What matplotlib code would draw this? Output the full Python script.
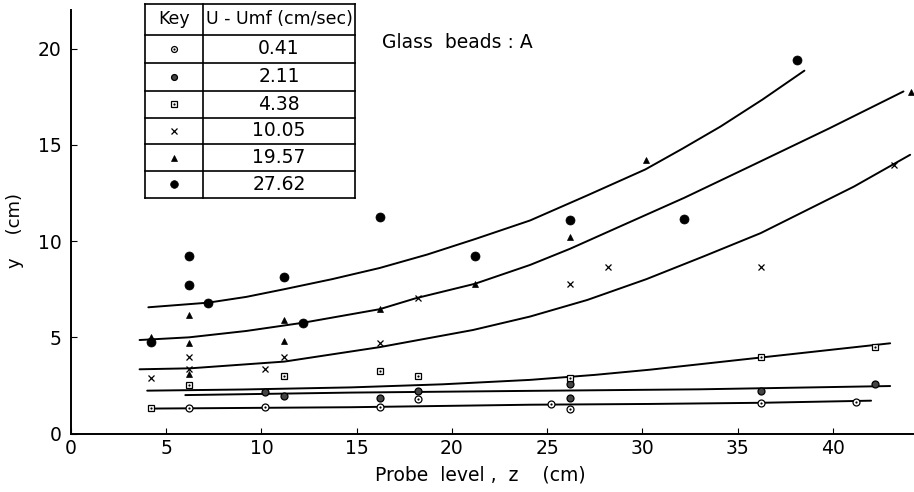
import numpy as np
import matplotlib.pyplot as plt
from matplotlib.lines import Line2D

## Series keys (U - Umf, cm/sec)
keys = ["0.41", "2.11", "4.38", "10.05", "19.57", "27.62"]

z041 = [6.2, 10.2, 16.2, 18.2, 25.2, 26.2, 36.2, 41.2]
y041 = [1.31, 1.40, 1.40, 1.78, 1.52, 1.28, 1.57, 1.66]
z211 = [10.2, 11.2, 16.2, 18.2, 26.2, 26.2, 36.2, 42.2]
y211 = [2.16, 1.97, 1.83, 2.20, 2.60, 1.85, 2.23, 2.58]
z438 = [4.2, 6.2, 11.2, 16.2, 18.2, 26.2, 36.2, 42.2]
y438 = [1.31, 2.51, 3.01, 3.25, 3.01, 2.90, 4.00, 4.52]
z1005 = [4.2, 6.2, 6.2, 10.2, 11.2, 16.2, 18.2, 26.2, 28.2, 36.2, 43.2]
y1005 = [2.87, 3.97, 3.37, 3.34, 3.97, 4.69, 7.06, 7.76, 8.64, 8.67, 13.96]
z1957 = [4.2, 6.2, 6.2, 6.2, 11.2, 11.2, 16.2, 21.2, 26.2, 30.2, 44.1]
y1957 = [5.00, 6.18, 4.69, 3.10, 5.90, 4.81, 6.49, 7.78, 10.20, 14.22, 17.74]
z2762 = [4.2, 6.2, 6.2, 7.2, 11.2, 12.2, 16.2, 21.2, 26.2, 32.2, 38.1]
y2762 = [4.75, 9.20, 7.74, 6.80, 8.15, 5.76, 11.27, 9.20, 11.10, 11.15, 19.38]

cz041 = [4.2, 14.7, 24.1, 30.4, 36.2, 42.0]
cy041 = [1.30, 1.37, 1.50, 1.54, 1.60, 1.71]
cz211 = [6.0, 14.7, 24.1, 33.0, 43.0]
cy211 = [2.00, 2.13, 2.22, 2.30, 2.47]
cz438 = [4.0, 9.0, 14.7, 19.5, 24.1, 27.5, 30.4, 36.2, 43.0]
cy438 = [2.23, 2.29, 2.40, 2.56, 2.79, 3.05, 3.32, 3.95, 4.69]
cz1005 = [3.6, 6.25, 11.2, 16.2, 21.1, 24.1, 27.1, 30.2, 33.2, 36.2, 41.1, 44.05]
cy1005 = [3.34, 3.39, 3.74, 4.49, 5.38, 6.08, 6.94, 8.02, 9.20, 10.41, 12.83, 14.48]
cz1957 = [3.6, 6.2, 9.2, 12.2, 16.2, 18.1, 21.2, 24.1, 26.2, 28.8, 32.2, 35.8, 39.8, 43.7]
cy1957 = [4.86, 5.00, 5.33, 5.76, 6.46, 7.03, 7.78, 8.76, 9.60, 10.75, 12.25, 13.95, 15.85, 17.77]
cz2762 = [4.06, 7.2, 9.2, 11.2, 13.7, 16.2, 18.7, 21.2, 24.1, 27.1, 30.15, 32.1, 34.1, 36.3, 38.5]
cy2762 = [6.56, 6.80, 7.10, 7.50, 8.02, 8.60, 9.30, 10.10, 11.07, 12.37, 13.72, 14.80, 15.95, 17.35, 18.85]

points = [(z041, y041), (z211, y211), (z438, y438),
          (z1005, y1005), (z1957, y1957), (z2762, y2762)]
curves = [(cz041, cy041), (cz211, cy211), (cz438, cy438),
          (cz1005, cy1005), (cz1957, cy1957), (cz2762, cy2762)]

# Marker look per series, second item = small centre dot
styles = [
    (dict(marker='o', ms=5, mfc='white', mec='k', mew=0.9), True),
    (dict(marker='o', ms=5, mfc='#444444', mec='k', mew=0.9), False),
    (dict(marker='s', ms=5, mfc='white', mec='k', mew=0.9), True),
    (dict(marker='x', ms=4.5, mec='k', mew=0.9), False),
    (dict(marker='^', ms=4.5, mfc='k', mec='k', mew=0.5), False),
    (dict(marker='o', ms=6.5, mfc='k', mec='k', mew=0.5), False),
]
DOT = dict(marker='o', ms=1.6, mfc='k', mec='k', mew=0)

W, H = 914, 492
plt.rcParams['font.family'] = 'DejaVu Sans'
fig = plt.figure(figsize=(W / 100, H / 100), dpi=100)
ax = fig.add_axes([71 / W, 1 - 433.6 / H, 842 / W, 423.6 / H])

# Curves first, then points on top
for cz, cy in curves:
    ax.plot(cz, cy, color='k', lw=1.4, solid_capstyle='round', solid_joinstyle='round', zorder=2)

for (z, y), (st, dot) in zip(points, styles):
    ax.plot(z, y, ls='none', zorder=3, **st)
    if dot:
        ax.plot(z, y, ls='none', zorder=4, **DOT)

ax.set_xlim(0, 44.2)
ax.set_ylim(0, 22)
ax.set_xticks(np.arange(0, 41, 5))
ax.set_yticks(np.arange(0, 21, 5))
ax.spines['top'].set_visible(False)
ax.spines['right'].set_visible(False)
for s in ['left', 'bottom']:
    ax.spines[s].set_linewidth(1.4)
ax.tick_params(direction='in', length=4, width=0.8, labelsize=13.5)
ax.tick_params(axis='y', pad=7)
ax.tick_params(axis='x', pad=4)

# Axis titles
fig.text(15 / W, 1 - 230 / H, "y    (cm)", rotation=90, ha='center', va='center', fontsize=13)
fig.text(480 / W, 1 - 475 / H, "Probe  level ,  z    (cm)", ha='center', va='center', fontsize=13.5)
fig.text(382 / W, 1 - 43 / H, "Glass  beads : A", ha='left', va='center', fontsize=13.5)

## Key table drawn in pixel positions
def px(x, y):
    return x / W, 1 - y / H

def hline(x0, x1, y):
    (a, b), (c, d) = px(x0, y), px(x1, y)
    fig.add_artist(Line2D([a, c], [b, d], transform=fig.transFigure, color='k', lw=1.2))

def vline(x, y0, y1):
    (a, b), (c, d) = px(x, y0), px(x, y1)
    fig.add_artist(Line2D([a, c], [b, d], transform=fig.transFigure, color='k', lw=1.2))

tl, tm, tr = 145, 203, 355
rows = [4, 35, 63, 90.5, 117.5, 144, 171, 197.5]
for r in rows:
    hline(tl, tr, r)
for c in [tl, tm, tr]:
    vline(c, rows[0], rows[-1])

fig.text(*px((tl + tm) / 2, (rows[0] + rows[1]) / 2), "Key", ha='center', va='center', fontsize=12.5)
fig.text(*px((tm + tr) / 2, (rows[0] + rows[1]) / 2), "U - Umf (cm/sec)", ha='center', va='center', fontsize=12.5)
for i, k in enumerate(keys):
    yc = (rows[i + 1] + rows[i + 2]) / 2
    fig.text(*px((tm + tr) / 2, yc), k, ha='center', va='center', fontsize=13.5)
    st, dot = styles[i]
    a, b = px((tl + tm) / 2, yc)
    small = dict(st)
    small['ms'] = st['ms'] * 0.85
    fig.add_artist(Line2D([a], [b], transform=fig.transFigure, ls='none', **small))
    if dot:
        fig.add_artist(Line2D([a], [b], transform=fig.transFigure, ls='none', **DOT))

plt.savefig('out.png', dpi=100)
